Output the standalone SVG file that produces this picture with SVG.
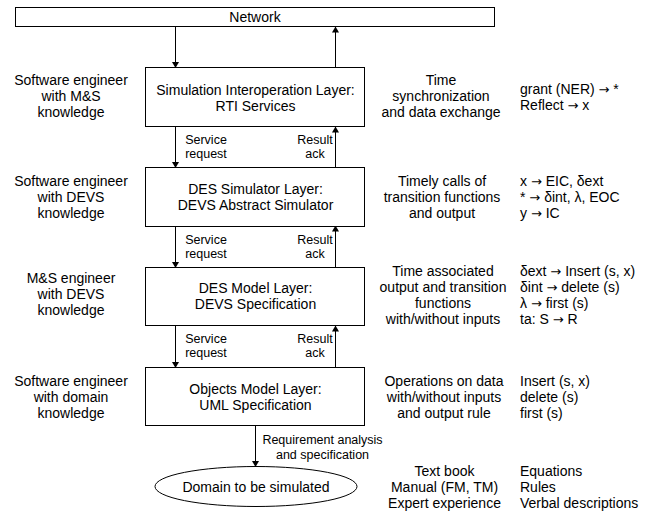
<svg xmlns="http://www.w3.org/2000/svg" width="657" height="514" viewBox="0 0 657 514">
<defs>
<marker id="ah" markerWidth="6" markerHeight="7" refX="5.5" refY="3.5" orient="auto" markerUnits="userSpaceOnUse">
<path d="M0,0 L6,3.5 L0,7 Z" fill="#000"/>
</marker>
</defs>
<style>
text{font-family:"Liberation Sans",Arial,sans-serif;font-size:14px;fill:#000}
.c{text-anchor:middle}
.s{font-size:12.5px}
.a{font-family:"DejaVu Sans",sans-serif;font-size:13px}
.box{fill:#fff;stroke:#000;stroke-width:1}
.ln{stroke:#000;stroke-width:1;fill:none;marker-end:url(#ah)}
</style>
<rect width="657" height="514" fill="#fff"/>
<g id="network">
<rect class="box" x="15.5" y="7.5" width="479" height="19"/>
<text class="c" x="255" y="22">Network</text>
</g>
<g id="layer1">
<rect class="box" x="145.5" y="67.5" width="219" height="59"/>
<text class="c" x="255.5" y="94.5">Simulation Interoperation Layer:</text>
<text class="c" x="255.5" y="110.5">RTI Services</text>
</g>
<g id="layer2">
<rect class="box" x="145.5" y="167.5" width="219" height="59"/>
<text class="c" x="255.5" y="194">DES Simulator Layer:</text>
<text class="c" x="255.5" y="210">DEVS Abstract Simulator</text>
</g>
<g id="layer3">
<rect class="box" x="145.5" y="267.5" width="219" height="58"/>
<text class="c" x="255.5" y="292.5">DES Model Layer:</text>
<text class="c" x="255.5" y="308.5">DEVS Specification</text>
</g>
<g id="layer4">
<rect class="box" x="145.5" y="367.5" width="219" height="58"/>
<text class="c" x="255.5" y="393.5">Objects Model Layer:</text>
<text class="c" x="255.5" y="409.5">UML Specification</text>
</g>
<g id="domain">
<ellipse class="box" cx="256" cy="486.5" rx="101" ry="20"/>
<text class="c" x="256" y="491.5">Domain to be simulated</text>
</g>
<g id="connectors">
<line class="ln" x1="175.5" y1="27" x2="175.5" y2="67.5"/>
<line class="ln" x1="335.5" y1="67.5" x2="335.5" y2="27"/>
<line class="ln" x1="175.5" y1="127" x2="175.5" y2="167.5"/>
<line class="ln" x1="335.5" y1="167.5" x2="335.5" y2="127"/>
<line class="ln" x1="175.5" y1="226" x2="175.5" y2="267.5"/>
<line class="ln" x1="335.5" y1="267.5" x2="335.5" y2="226"/>
<line class="ln" x1="175.5" y1="326" x2="175.5" y2="367.5"/>
<line class="ln" x1="335.5" y1="367.5" x2="335.5" y2="326"/>
<line class="ln" x1="255.5" y1="426" x2="255.5" y2="466.5"/>
</g>
<g id="connector-labels">
<text class="c s" x="206" y="144">Service</text>
<text class="c s" x="206" y="158">request</text>
<text class="c s" x="315" y="144">Result</text>
<text class="c s" x="315" y="158">ack</text>
<text class="c s" x="206" y="243.5">Service</text>
<text class="c s" x="206" y="257.5">request</text>
<text class="c s" x="315" y="243.5">Result</text>
<text class="c s" x="315" y="257.5">ack</text>
<text class="c s" x="206" y="342.7">Service</text>
<text class="c s" x="206" y="356.7">request</text>
<text class="c s" x="315" y="342.7">Result</text>
<text class="c s" x="315" y="356.7">ack</text>
<text class="c s" x="322.5" y="444">Requirement analysis</text>
<text class="c s" x="322.5" y="458.5">and specification</text>
</g>
<g id="roles">
<text class="c" x="71" y="85">Software engineer</text>
<text class="c" x="71" y="101">with M&amp;S</text>
<text class="c" x="71" y="117">knowledge</text>
<text class="c" x="71" y="186">Software engineer</text>
<text class="c" x="71" y="202">with DEVS</text>
<text class="c" x="71" y="218">knowledge</text>
<text class="c" x="71" y="283">M&amp;S engineer</text>
<text class="c" x="71" y="299">with DEVS</text>
<text class="c" x="71" y="315">knowledge</text>
<text class="c" x="71" y="385.5">Software engineer</text>
<text class="c" x="71" y="401.5">with domain</text>
<text class="c" x="71" y="417.5">knowledge</text>
</g>
<g id="functions">
<text class="c" x="441" y="85">Time</text>
<text class="c" x="441" y="101">synchronization</text>
<text class="c" x="441" y="117">and data exchange</text>
<text class="c" x="442" y="186">Timely calls of</text>
<text class="c" x="442" y="202">transition functions</text>
<text class="c" x="442" y="218">and output</text>
<text class="c" x="443" y="275.5">Time associated</text>
<text class="c" x="443" y="291.5">output and transition</text>
<text class="c" x="443" y="307.5">functions</text>
<text class="c" x="443" y="323.5">with/without inputs</text>
<text class="c" x="444" y="385.5">Operations on data</text>
<text class="c" x="444" y="401.5">with/without inputs</text>
<text class="c" x="444" y="417.5">and output rule</text>
<text class="c" x="444.5" y="475.5">Text book</text>
<text class="c" x="444.5" y="491.5">Manual (FM, TM)</text>
<text class="c" x="444.5" y="507.5">Expert experience</text>
</g>
<g id="mappings">
<text x="520" y="94">grant (NER) <tspan class="a">→</tspan> *</text>
<text x="520" y="110">Reflect <tspan class="a">→</tspan> x</text>
<text x="520" y="186">x <tspan class="a">→</tspan> EIC, δext</text>
<text x="520" y="202">* <tspan class="a">→</tspan> δint, λ, EOC</text>
<text x="520" y="218">y <tspan class="a">→</tspan> IC</text>
<text x="520" y="275.5">δext <tspan class="a">→</tspan> Insert (s, x)</text>
<text x="520" y="291.5">δint <tspan class="a">→</tspan> delete (s)</text>
<text x="520" y="307.5">λ <tspan class="a">→</tspan> first (s)</text>
<text x="520" y="323.5">ta: S <tspan class="a">→</tspan> R</text>
<text x="520" y="385.5">Insert (s, x)</text>
<text x="520" y="401.5">delete (s)</text>
<text x="520" y="417.5">first (s)</text>
<text x="520" y="475.5">Equations</text>
<text x="520" y="491.5">Rules</text>
<text x="520" y="507.5">Verbal descriptions</text>
</g>
</svg>
